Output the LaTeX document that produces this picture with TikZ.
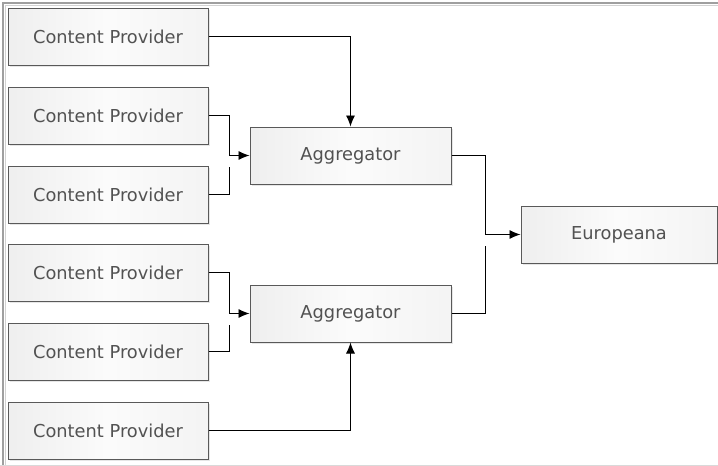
\documentclass[tikz,border=0pt]{standalone}
\usepackage{fontspec}
\setmainfont{DejaVu Sans}
\usetikzlibrary{arrows.meta,shadows}

\begin{document}
\begin{tikzpicture}[x=1pt, y=-1pt,
  box/.style={draw=black!65, line width=1pt, left color=gray!13, right color=gray!9, middle color=white!97!gray,
    minimum width=200pt, minimum height=57pt, inner sep=0pt,
    text=black!68, font=\fontsize{17.8}{20}\selectfont,
    drop shadow={shadow xshift=2pt, shadow yshift=-2pt, opacity=0.2, fill=gray}},
  link/.style={draw=black, line width=0.9pt},
  arrowlink/.style={link, -{Latex[length=11pt,width=9pt]}}]
\def\providerx{108}
\def\joinx{229}

\useasboundingbox (0,0) rectangle (718,466);
% frame
\draw[gray!75, line width=2pt] (2.5,466) -- (2.5,2.5) -- (718,2.5);
\draw[gray!35, line width=1pt] (5.5,466) -- (5.5,5.5) -- (718,5.5);
\draw[gray!30, line width=1pt] (0,465) -- (718,465);

% content providers
\node[box] (cp1) at (\providerx, 36.5) {Content Provider};
\node[box] (cp2) at (\providerx, 115.5) {Content Provider};
\node[box] (cp3) at (\providerx, 194.5) {Content Provider};
\node[box] (cp4) at (\providerx, 272.5) {Content Provider};
\node[box] (cp5) at (\providerx, 351.5) {Content Provider};
\node[box] (cp6) at (\providerx, 430.5) {Content Provider};

% aggregators and europeana
\node[box, minimum width=201pt] (agg1) at (350.5, 155.5) {Aggregator};
\node[box, minimum width=201pt] (agg2) at (350.5, 313.5) {Aggregator};
\node[box, minimum width=196pt] (europeana) at (619, 234.5) {Europeana};

% free ends of the broken lines
\coordinate (end1) at (\joinx, 167);
\coordinate (end2) at (\joinx, 325);
\coordinate (end3) at (485, 246);

\draw[arrowlink] (cp1.east) -| (agg1.north);
\draw[arrowlink] (cp2.east) -- ++(21,0) |- (agg1.west);
\draw[link] (cp3.east) -| (end1);
\draw[arrowlink] (cp4.east) -- ++(21,0) |- (agg2.west);
\draw[link] (cp5.east) -| (end2);
\draw[arrowlink] (cp6.east) -| (agg2.south);

\draw[arrowlink] (agg1.east) -- ++(34,0) |- (europeana.west);
\draw[link] (agg2.east) -| (end3);
\end{tikzpicture}
\end{document}
